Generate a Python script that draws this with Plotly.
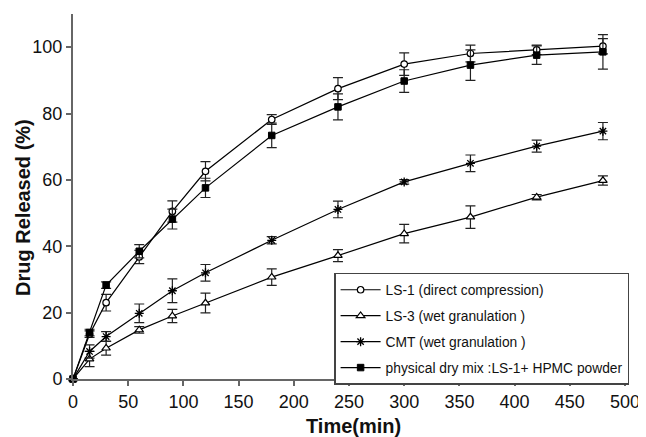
import plotly.graph_objects as go

time_min = [0, 15, 30, 60, 90, 120, 180, 240, 300, 360, 420, 480]

ls1 = [0, 13.5, 23.0, 36.8, 50.5, 62.6, 78.2, 87.5, 94.9, 98.1, 99.2, 100.3]
ls1_err = [0, 1.0, 2.5, 2.0, 3.2, 2.9, 1.5, 3.3, 3.4, 2.5, 1.4, 2.3]

ls3 = [0, 6.0, 9.3, 14.8, 19.0, 22.9, 30.7, 37.2, 43.8, 48.8, 54.8, 59.8]
ls3_err = [0, 2.3, 2.1, 1.0, 2.0, 3.0, 2.5, 1.8, 2.8, 3.4, 0.8, 1.4]

cmt = [0, 8.3, 12.8, 19.8, 26.6, 32.0, 41.8, 51.1, 59.4, 65.0, 70.2, 74.7]
cmt_err = [0, 2.0, 1.5, 2.8, 3.6, 2.5, 1.1, 2.5, 0.7, 2.5, 1.8, 2.6]

mix = [0, 14.0, 28.3, 38.5, 48.2, 57.6, 73.4, 82.0, 89.8, 94.6, 97.6, 98.6]
mix_err = [0, 1.0, 1.0, 2.0, 3.0, 2.9, 3.7, 3.9, 3.4, 4.6, 2.8, 5.2]

names = ["LS-1 (direct compression)", "LS-3 (wet granulation )",
         "CMT (wet granulation )", "physical dry mix :LS-1+ HPMC powder"]
x_ticks = [0, 50, 100, 150, 200, 250, 300, 350, 400, 450, 500]
y_ticks = [0, 20, 40, 60, 80, 100]

series = [
    (ls1, ls1_err, "circle", "white", 6.5, 1.2),
    (ls3, ls3_err, "triangle-up", "white", 7.5, 1.2),
    (cmt, cmt_err, "asterisk-open", "black", 7.5, 1.3),
    (mix, mix_err, "square", "black", 6.5, 1.0),
]

fig = go.Figure()
for i, (ys, es, sym, fill, size, lw) in enumerate(series):
    fig.add_trace(go.Scatter(
        x=time_min, y=ys, name=names[i], mode="lines+markers",
        legendgroup=f"g{i}",
        line=dict(color="black", width=1.2),
        marker=dict(symbol=sym, size=size, color=fill,
                    line=dict(color="black", width=lw)),
        error_y=dict(type="data", array=es, visible=True,
                     color="#222", thickness=1.2, width=5),
        cliponaxis=False,
    ))

# page body has an 8px margin, so the figure is sized/offset to compensate
fig.update_layout(
    width=638, height=429,
    margin=dict(l=65, r=19, t=6, b=58),
    paper_bgcolor="white", plot_bgcolor="white",
    font=dict(family="Liberation Sans, Arial, sans-serif", color="#111"),
    showlegend=True,
    legend=dict(x=0.473, y=0.291, xanchor="left", yanchor="top",
                bgcolor="white", bordercolor="#444", borderwidth=1.5,
                font=dict(size=13.8, color="#111"),
                traceorder="grouped", tracegroupgap=5, itemwidth=40),
    xaxis=dict(range=[0, 500], tickvals=x_ticks, showgrid=False, zeroline=False,
               showline=True, linecolor="#666", linewidth=2,
               ticks="outside", ticklen=5, tickcolor="#666", tickwidth=1.5,
               tickfont=dict(size=18, color="#111")),
    yaxis=dict(range=[0, 110], tickvals=y_ticks, showgrid=False, zeroline=False,
               showline=True, linecolor="#666", linewidth=2,
               ticks="outside", ticklen=5, tickcolor="#666", tickwidth=1.5,
               tickfont=dict(size=18, color="#111")),
    annotations=[
        dict(text="<b>Time(min)</b>", xref="paper", yref="paper",
             x=0.509, y=-0.128, xanchor="center", yanchor="middle",
             showarrow=False, font=dict(size=20, color="#111")),
        dict(text="<b>Drug Released (%)</b>", xref="paper", yref="paper",
             x=-0.0908, y=0.471, xanchor="center", yanchor="middle",
             textangle=-90, showarrow=False, font=dict(size=20, color="#111")),
    ],
)

fig.write_html("out.html")
